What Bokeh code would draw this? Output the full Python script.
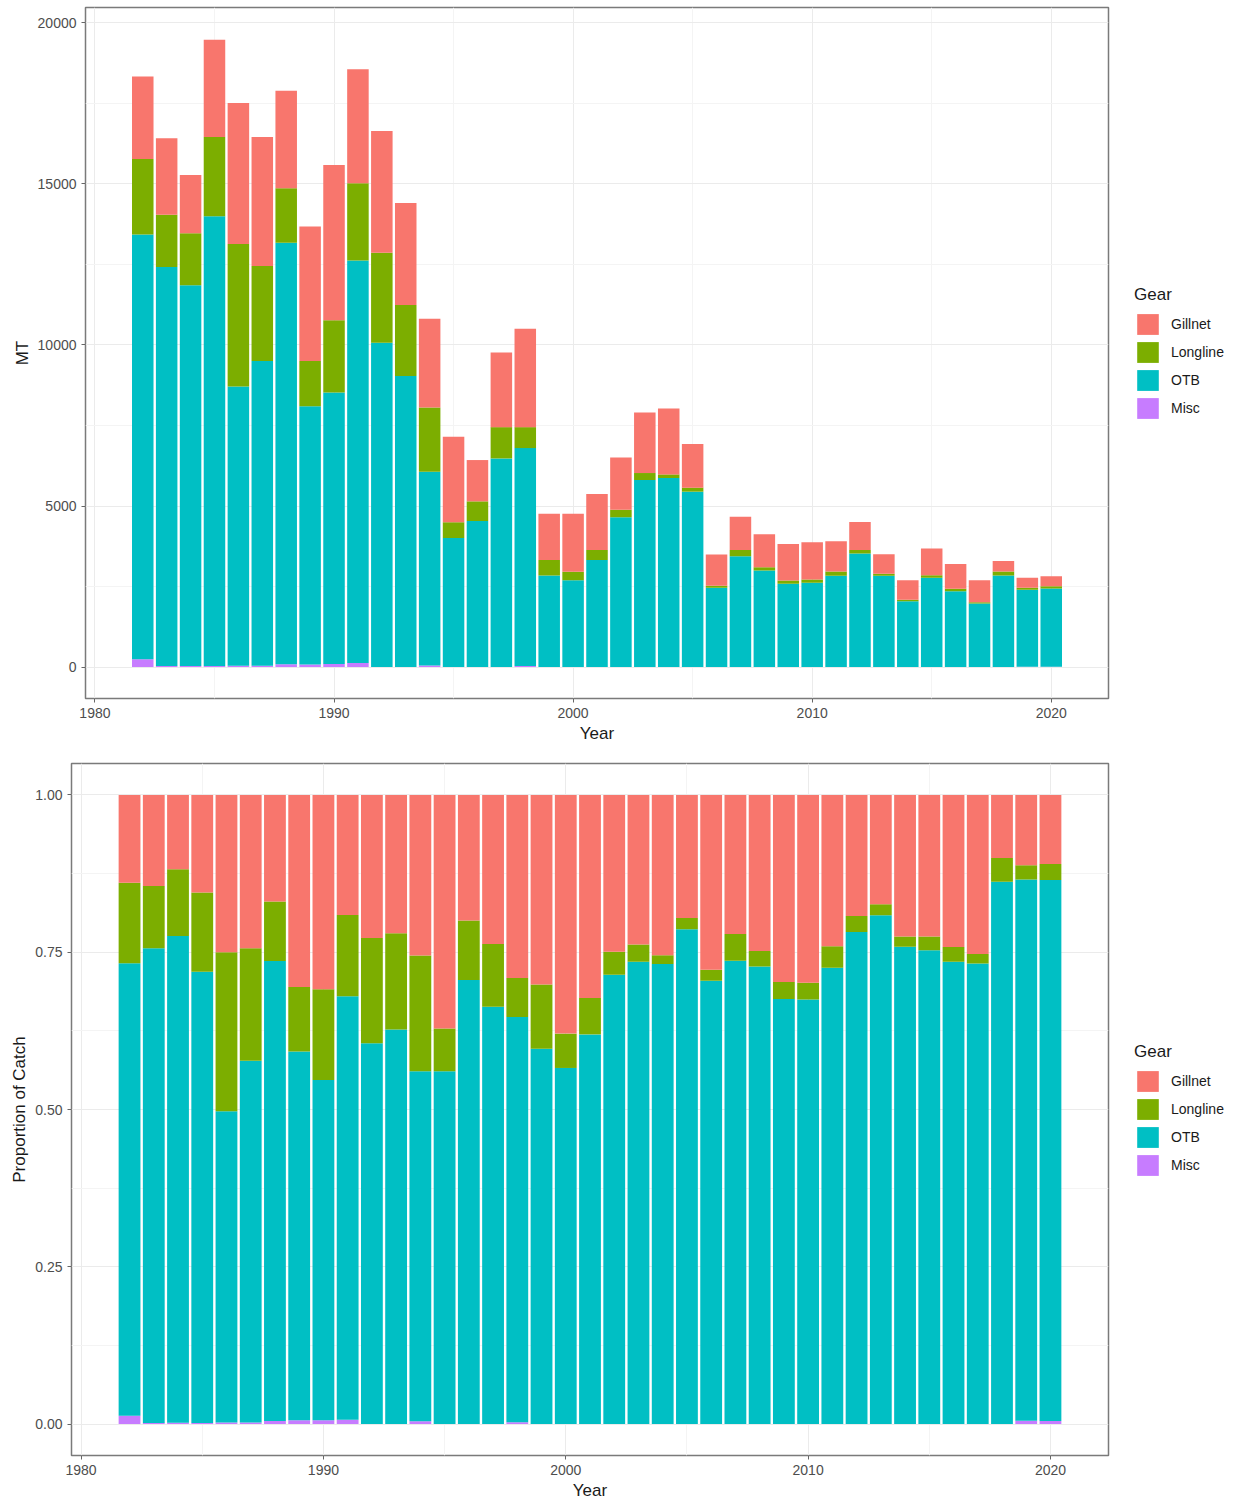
from bokeh.plotting import figure
from bokeh.models import (ColumnDataSource, Range1d, FixedTicker, Legend, LegendItem,
                          PrintfTickFormatter, BasicTickFormatter)
from bokeh.embed import file_html
from bokeh.resources import INLINE

years = list(range(1982, 2021))
gillnet = [2560, 2376, 1806, 3018, 4378, 4007, 3028, 4174, 4817, 3542,
           3781, 3170, 2758, 2655, 1282, 2313, 3056, 1435, 1807, 1735,
           1621, 1878, 2045, 1354, 970, 1032, 1022, 1137, 1156, 939,
           867, 608, 607, 827, 775, 682, 331, 310, 310]
longline = [2343, 1621, 1621, 2457, 4422, 2944, 1695, 1404, 2248, 2396,
            2789, 2201, 1993, 484, 609, 972, 650, 486, 260, 310,
            239, 217, 112, 124, 62, 198, 102, 103, 103, 134,
            115, 62, 44, 81, 74, 40, 124, 62, 71]
otb = [13190, 12387, 11820, 13968, 8668, 9464, 13080, 8020, 8427, 12494,
       10071, 9039, 6014, 4010, 4536, 6477, 6769, 2842, 2696, 3328,
       4648, 5807, 5869, 5445, 2460, 3440, 2997, 2584, 2615, 2832,
       3523, 2832, 2045, 2770, 2355, 1974, 2842, 2384, 2425]
misc = [240, 30, 30, 30, 40, 40, 90, 80, 95, 130,
        0, 0, 50, 0, 0, 0, 30, 0, 0, 0,
        0, 0, 0, 0, 0, 0, 0, 0, 0, 0,
        0, 0, 0, 0, 0, 0, 0, 14, 14]

gears = ["Misc", "OTB", "Longline", "Gillnet"]          # stacking order, bottom to top
legend_order = ["Gillnet", "Longline", "OTB", "Misc"]
colors = {"Gillnet": "#F8766D", "Longline": "#7CAE00", "OTB": "#00BFC4", "Misc": "#C77CFF"}

x_ticks = [1980, 1990, 2000, 2010, 2020]
x_minor = [1985, 1995, 2005, 2015]
mt_ticks = [0, 5000, 10000, 15000, 20000]
mt_minor = [2500, 7500, 12500, 17500]
prop_ticks = [0, 0.25, 0.5, 0.75, 1.0]
prop_minor = [0.125, 0.375, 0.625, 0.875]

totals = [g + l + o + m for g, l, o, m in zip(gillnet, longline, otb, misc)]
src_mt = ColumnDataSource(dict(Year=years, Gillnet=gillnet, Longline=longline, OTB=otb, Misc=misc))
src_prop = ColumnDataSource(dict(
    Year=years,
    Gillnet=[v / t for v, t in zip(gillnet, totals)],
    Longline=[v / t for v, t in zip(longline, totals)],
    OTB=[v / t for v, t in zip(otb, totals)],
    Misc=[v / t for v, t in zip(misc, totals)],
))

FONT = "Liberation Sans"


def style(p, yticks, yminor, ylabel, fmt):
    p.outline_line_color = "#7a7a7a"
    p.outline_line_width = 1.5
    p.background_fill_color = "white"
    p.border_fill_color = "white"
    p.xaxis.ticker = FixedTicker(ticks=x_ticks, minor_ticks=x_minor)
    p.yaxis.ticker = FixedTicker(ticks=yticks, minor_ticks=yminor)
    p.yaxis.formatter = fmt
    for ax in (p.xaxis[0], p.yaxis[0]):
        ax.axis_line_color = None
        ax.major_tick_line_color = "#666666"
        ax.major_tick_in = 0
        ax.major_tick_out = 4
        ax.minor_tick_line_color = None
        ax.major_label_text_font = FONT
        ax.major_label_text_font_size = "14px"
        ax.major_label_text_color = "#4d4d4d"
        ax.axis_label_text_font = FONT
        ax.axis_label_text_font_size = "17px"
        ax.axis_label_text_font_style = "normal"
        ax.axis_label_text_color = "#1a1a1a"
        ax.major_label_standoff = 5
        ax.axis_label_standoff = 3
    p.xaxis.axis_label = "Year"
    p.yaxis.axis_label = ylabel
    for g in (p.xgrid[0], p.ygrid[0]):
        g.grid_line_color = "#ebebeb"
        g.grid_line_width = 1
        g.minor_grid_line_color = "#f4f4f4"
        g.minor_grid_line_width = 1


def add_legend(p, renderers, x, y):
    rmap = dict(zip(gears, renderers))
    items = [LegendItem(label=g, renderers=[rmap[g]]) for g in legend_order]
    leg = Legend(items=items, location=(x, y), title="Gear",
                 title_text_font=FONT, title_text_font_size="17px",
                 title_text_font_style="normal", title_text_color="#1a1a1a",
                 title_standoff=6,
                 label_text_font=FONT, label_text_font_size="14px",
                 label_text_color="#1a1a1a",
                 glyph_width=27, glyph_height=26, spacing=2, label_standoff=10,
                 padding=0, margin=x, border_line_color=None,
                 background_fill_alpha=0)
    p.add_layout(leg, "right")


# ---- top: MT ----
p1 = figure(frame_width=1023, frame_height=691, output_backend="svg", toolbar_location=None,
            x_range=Range1d(1979.605, 2022.395), y_range=Range1d(-975, 20475),
            min_border_left=85, min_border_right=133, min_border_top=7, min_border_bottom=52)
r1 = p1.vbar_stack(gears, x="Year", width=0.9, source=src_mt,
                   color=[colors[g] for g in gears], line_color=None)
style(p1, mt_ticks, mt_minor, "MT", BasicTickFormatter(use_scientific=False))
add_legend(p1, r1, 26, 277)

# ---- bottom: proportion ----
p2 = figure(frame_width=1037, frame_height=692, output_backend="svg", toolbar_location=None,
            x_range=Range1d(1979.605, 2022.395), y_range=Range1d(-0.05, 1.05),
            min_border_left=71, min_border_right=133, min_border_top=13, min_border_bottom=47)
r2 = p2.vbar_stack(gears, x="Year", width=0.9, source=src_prop,
                   color=[colors[g] for g in gears], line_color=None)
style(p2, prop_ticks, prop_minor, "Proportion of Catch", PrintfTickFormatter(format="%.2f"))
add_legend(p2, r2, 26, 277)

open("out.html", "w").write(file_html([p1, p2], INLINE))
